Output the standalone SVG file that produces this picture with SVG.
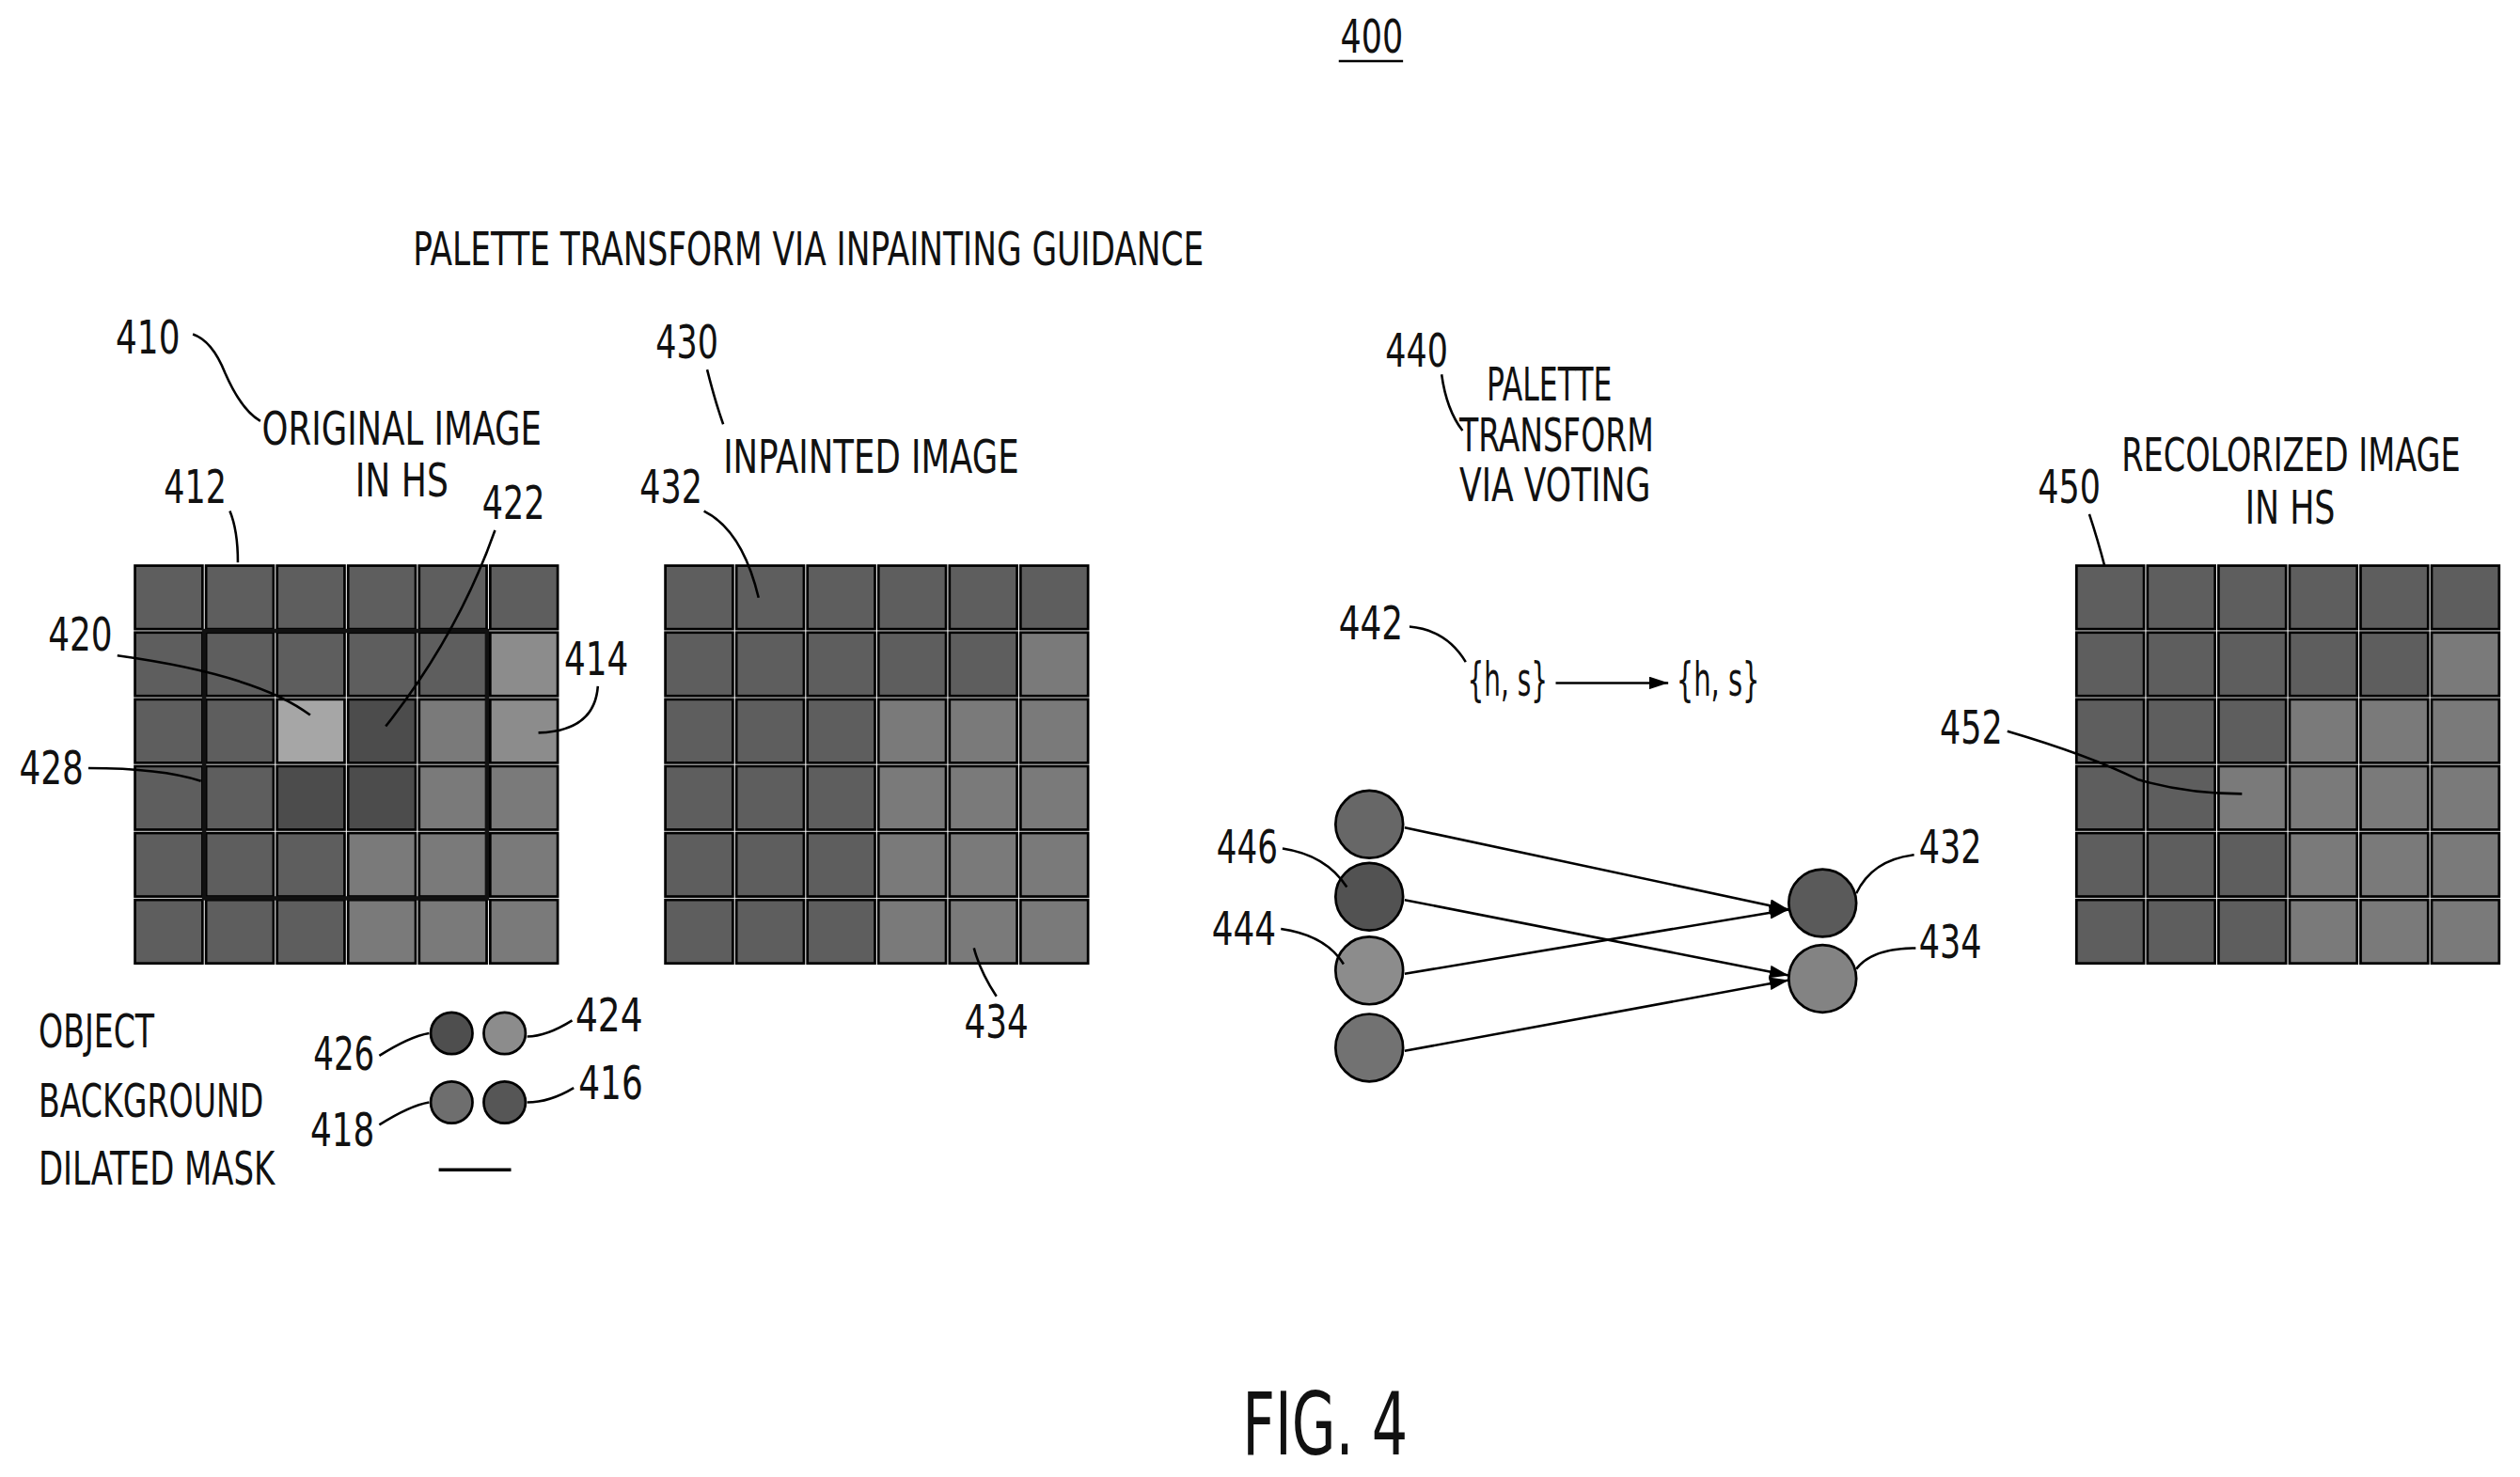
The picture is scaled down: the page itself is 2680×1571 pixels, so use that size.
<svg xmlns="http://www.w3.org/2000/svg" width="2680" height="1571" viewBox="0 0 2680 1571">
<style>
text{font-family:"DejaVu Sans Condensed","Liberation Sans Narrow","Liberation Sans",sans-serif;font-stretch:condensed;fill:#111;font-size:29px;lengthAdjust:spacingAndGlyphs}
.c{stroke:#000;stroke-width:1.6}
.D{fill:#5e5e5e}.K{fill:#4c4c4c}.M{fill:#7a7a7a}.L{fill:#8c8c8c}.W{fill:#a6a6a6}
.ld{fill:none;stroke:#000;stroke-width:1.5}
.ar{fill:none;stroke:#000;stroke-width:1.5;marker-end:url(#ah)}
</style>
<defs>
<marker id="ah" markerWidth="12" markerHeight="8" refX="12" refY="4" orient="auto" markerUnits="userSpaceOnUse"><path d="M0,0 L12,4 L0,8 Z" fill="#000"/></marker>
</defs>
<rect width="2680" height="1571" fill="#fff"/>
<g transform="scale(1.7092)">
<g id="title">
<text x="834" y="33" textLength="39" lengthAdjust="spacingAndGlyphs">400</text>
<line x1="833" y1="38" x2="873" y2="38" stroke="#000" stroke-width="1.5"/>
<text x="257" y="165" textLength="492" lengthAdjust="spacingAndGlyphs">PALETTE TRANSFORM VIA INPAINTING GUIDANCE</text>
<text x="773" y="905" textLength="103" lengthAdjust="spacingAndGlyphs" style="font-size:54px">FIG. 4</text>
</g>
<g id="grid410">
<text x="72" y="220" textLength="40" lengthAdjust="spacingAndGlyphs">410</text>
<text x="163" y="277" textLength="174" lengthAdjust="spacingAndGlyphs">ORIGINAL IMAGE</text>
<text x="221" y="309" textLength="58" lengthAdjust="spacingAndGlyphs">IN HS</text>
<g class="c">
<rect class="D" x="84" y="352" width="42" height="39.5"/><rect class="D" x="128.2" y="352" width="42" height="39.5"/><rect class="D" x="172.4" y="352" width="42" height="39.5"/><rect class="D" x="216.6" y="352" width="42" height="39.5"/><rect class="D" x="260.8" y="352" width="42" height="39.5"/><rect class="D" x="305" y="352" width="42" height="39.5"/>
<rect class="D" x="84" y="393.6" width="42" height="39.5"/><rect class="D" x="128.2" y="393.6" width="42" height="39.5"/><rect class="D" x="172.4" y="393.6" width="42" height="39.5"/><rect class="D" x="216.6" y="393.6" width="42" height="39.5"/><rect class="D" x="260.8" y="393.6" width="42" height="39.5"/><rect class="L" x="305" y="393.6" width="42" height="39.5"/>
<rect class="D" x="84" y="435.2" width="42" height="39.5"/><rect class="D" x="128.2" y="435.2" width="42" height="39.5"/><rect class="W" x="172.4" y="435.2" width="42" height="39.5"/><rect class="K" x="216.6" y="435.2" width="42" height="39.5"/><rect class="M" x="260.8" y="435.2" width="42" height="39.5"/><rect class="L" x="305" y="435.2" width="42" height="39.5"/>
<rect class="D" x="84" y="476.8" width="42" height="39.5"/><rect class="D" x="128.2" y="476.8" width="42" height="39.5"/><rect class="K" x="172.4" y="476.8" width="42" height="39.5"/><rect class="K" x="216.6" y="476.8" width="42" height="39.5"/><rect class="M" x="260.8" y="476.8" width="42" height="39.5"/><rect class="M" x="305" y="476.8" width="42" height="39.5"/>
<rect class="D" x="84" y="518.4" width="42" height="39.5"/><rect class="D" x="128.2" y="518.4" width="42" height="39.5"/><rect class="D" x="172.4" y="518.4" width="42" height="39.5"/><rect class="M" x="216.6" y="518.4" width="42" height="39.5"/><rect class="M" x="260.8" y="518.4" width="42" height="39.5"/><rect class="M" x="305" y="518.4" width="42" height="39.5"/>
<rect class="D" x="84" y="560" width="42" height="39.5"/><rect class="D" x="128.2" y="560" width="42" height="39.5"/><rect class="D" x="172.4" y="560" width="42" height="39.5"/><rect class="M" x="216.6" y="560" width="42" height="39.5"/><rect class="M" x="260.8" y="560" width="42" height="39.5"/><rect class="M" x="305" y="560" width="42" height="39.5"/>
</g>
<rect x="127" y="392.6" width="176" height="166.4" fill="none" stroke="#111" stroke-width="2.6"/>
<text x="102" y="313" textLength="39" lengthAdjust="spacingAndGlyphs">412</text><path class="ld" d="M143,318 Q148,330 148,350"/>
<text x="300" y="323" textLength="39" lengthAdjust="spacingAndGlyphs">422</text><path class="ld" d="M308,330 Q285,395 240,452"/>
<text x="30" y="405" textLength="40" lengthAdjust="spacingAndGlyphs">420</text><path class="ld" d="M73,408 Q160,420 193,445"/>
<text x="351" y="420" textLength="40" lengthAdjust="spacingAndGlyphs">414</text><path class="ld" d="M372,427 Q370,455 335,456"/>
<text x="12" y="488" textLength="40" lengthAdjust="spacingAndGlyphs">428</text><path class="ld" d="M55,478 Q100,478 125,486"/>
<path class="ld" d="M120,208 Q132,212 140,232 Q150,255 162,262"/>
</g>
<g id="grid430">
<text x="408" y="223" textLength="39" lengthAdjust="spacingAndGlyphs">430</text><path class="ld" d="M440,230 Q445,250 450,264"/>
<text x="450" y="294" textLength="184" lengthAdjust="spacingAndGlyphs">INPAINTED IMAGE</text>
<g class="c">
<rect class="D" x="414" y="352" width="42" height="39.5"/><rect class="D" x="458.2" y="352" width="42" height="39.5"/><rect class="D" x="502.4" y="352" width="42" height="39.5"/><rect class="D" x="546.6" y="352" width="42" height="39.5"/><rect class="D" x="590.8" y="352" width="42" height="39.5"/><rect class="D" x="635" y="352" width="42" height="39.5"/>
<rect class="D" x="414" y="393.6" width="42" height="39.5"/><rect class="D" x="458.2" y="393.6" width="42" height="39.5"/><rect class="D" x="502.4" y="393.6" width="42" height="39.5"/><rect class="D" x="546.6" y="393.6" width="42" height="39.5"/><rect class="D" x="590.8" y="393.6" width="42" height="39.5"/><rect class="M" x="635" y="393.6" width="42" height="39.5"/>
<rect class="D" x="414" y="435.2" width="42" height="39.5"/><rect class="D" x="458.2" y="435.2" width="42" height="39.5"/><rect class="D" x="502.4" y="435.2" width="42" height="39.5"/><rect class="M" x="546.6" y="435.2" width="42" height="39.5"/><rect class="M" x="590.8" y="435.2" width="42" height="39.5"/><rect class="M" x="635" y="435.2" width="42" height="39.5"/>
<rect class="D" x="414" y="476.8" width="42" height="39.5"/><rect class="D" x="458.2" y="476.8" width="42" height="39.5"/><rect class="D" x="502.4" y="476.8" width="42" height="39.5"/><rect class="M" x="546.6" y="476.8" width="42" height="39.5"/><rect class="M" x="590.8" y="476.8" width="42" height="39.5"/><rect class="M" x="635" y="476.8" width="42" height="39.5"/>
<rect class="D" x="414" y="518.4" width="42" height="39.5"/><rect class="D" x="458.2" y="518.4" width="42" height="39.5"/><rect class="D" x="502.4" y="518.4" width="42" height="39.5"/><rect class="M" x="546.6" y="518.4" width="42" height="39.5"/><rect class="M" x="590.8" y="518.4" width="42" height="39.5"/><rect class="M" x="635" y="518.4" width="42" height="39.5"/>
<rect class="D" x="414" y="560" width="42" height="39.5"/><rect class="D" x="458.2" y="560" width="42" height="39.5"/><rect class="D" x="502.4" y="560" width="42" height="39.5"/><rect class="M" x="546.6" y="560" width="42" height="39.5"/><rect class="M" x="590.8" y="560" width="42" height="39.5"/><rect class="M" x="635" y="560" width="42" height="39.5"/>
</g>
<text x="398" y="313" textLength="39" lengthAdjust="spacingAndGlyphs">432</text><path class="ld" d="M438,318 Q462,330 472,372"/>
<text x="600" y="646" textLength="40" lengthAdjust="spacingAndGlyphs">434</text><path class="ld" d="M620,620 Q610,605 606,590"/>
</g>
<g id="grid450">
<text x="1320" y="293" textLength="211" lengthAdjust="spacingAndGlyphs">RECOLORIZED IMAGE</text>
<text x="1397" y="326" textLength="56" lengthAdjust="spacingAndGlyphs">IN HS</text>
<text x="1268" y="313" textLength="39" lengthAdjust="spacingAndGlyphs">450</text><path class="ld" d="M1300,320 Q1305,335 1310,354"/>
<g class="c">
<rect class="D" x="1292" y="352" width="42" height="39.5"/><rect class="D" x="1336.2" y="352" width="42" height="39.5"/><rect class="D" x="1380.4" y="352" width="42" height="39.5"/><rect class="D" x="1424.6" y="352" width="42" height="39.5"/><rect class="D" x="1468.8" y="352" width="42" height="39.5"/><rect class="D" x="1513" y="352" width="42" height="39.5"/>
<rect class="D" x="1292" y="393.6" width="42" height="39.5"/><rect class="D" x="1336.2" y="393.6" width="42" height="39.5"/><rect class="D" x="1380.4" y="393.6" width="42" height="39.5"/><rect class="D" x="1424.6" y="393.6" width="42" height="39.5"/><rect class="D" x="1468.8" y="393.6" width="42" height="39.5"/><rect class="M" x="1513" y="393.6" width="42" height="39.5"/>
<rect class="D" x="1292" y="435.2" width="42" height="39.5"/><rect class="D" x="1336.2" y="435.2" width="42" height="39.5"/><rect class="D" x="1380.4" y="435.2" width="42" height="39.5"/><rect class="M" x="1424.6" y="435.2" width="42" height="39.5"/><rect class="M" x="1468.8" y="435.2" width="42" height="39.5"/><rect class="M" x="1513" y="435.2" width="42" height="39.5"/>
<rect class="D" x="1292" y="476.8" width="42" height="39.5"/><rect class="D" x="1336.2" y="476.8" width="42" height="39.5"/><rect class="M" x="1380.4" y="476.8" width="42" height="39.5"/><rect class="M" x="1424.6" y="476.8" width="42" height="39.5"/><rect class="M" x="1468.8" y="476.8" width="42" height="39.5"/><rect class="M" x="1513" y="476.8" width="42" height="39.5"/>
<rect class="D" x="1292" y="518.4" width="42" height="39.5"/><rect class="D" x="1336.2" y="518.4" width="42" height="39.5"/><rect class="D" x="1380.4" y="518.4" width="42" height="39.5"/><rect class="M" x="1424.6" y="518.4" width="42" height="39.5"/><rect class="M" x="1468.8" y="518.4" width="42" height="39.5"/><rect class="M" x="1513" y="518.4" width="42" height="39.5"/>
<rect class="D" x="1292" y="560" width="42" height="39.5"/><rect class="D" x="1336.2" y="560" width="42" height="39.5"/><rect class="D" x="1380.4" y="560" width="42" height="39.5"/><rect class="M" x="1424.6" y="560" width="42" height="39.5"/><rect class="M" x="1468.8" y="560" width="42" height="39.5"/><rect class="M" x="1513" y="560" width="42" height="39.5"/>
</g>
<text x="1207" y="463" textLength="39" lengthAdjust="spacingAndGlyphs">452</text><path class="ld" d="M1249,455 Q1300,470 1330,485 Q1360,494 1395,494"/>
</g>
<g id="voting">
<text x="862" y="228" textLength="39" lengthAdjust="spacingAndGlyphs">440</text><path class="ld" d="M897,233 Q900,255 910,268"/>
<text x="925" y="249" textLength="78" lengthAdjust="spacingAndGlyphs">PALETTE</text>
<text x="908" y="281" textLength="121" lengthAdjust="spacingAndGlyphs">TRANSFORM</text>
<text x="908" y="312" textLength="119" lengthAdjust="spacingAndGlyphs">VIA VOTING</text>
<text x="833" y="398" textLength="40" lengthAdjust="spacingAndGlyphs">442</text><path class="ld" d="M877,390 Q900,392 912,412"/>
<text x="913" y="433" textLength="50" lengthAdjust="spacingAndGlyphs">{h, s}</text>
<text x="1043" y="433" textLength="52" lengthAdjust="spacingAndGlyphs">{h, s}</text>
<g class="c">
<circle id="n1" cx="852" cy="513" r="21" fill="#676767"/>
<circle id="n446" cx="852" cy="558" r="21" fill="#525252"/>
<circle id="n444" cx="852" cy="604" r="21" fill="#8c8c8c"/>
<circle id="n4" cx="852" cy="652" r="21" fill="#727272"/>
<circle id="n432" cx="1134" cy="562" r="21" fill="#5a5a5a"/>
<circle id="n434" cx="1134" cy="609" r="21" fill="#838383"/>
</g>
<text x="757" y="537" textLength="38" lengthAdjust="spacingAndGlyphs">446</text><path class="ld" d="M798,528 Q825,532 838,552"/>
<text x="754" y="588" textLength="40" lengthAdjust="spacingAndGlyphs">444</text><path class="ld" d="M797,578 Q825,582 836,600"/>
<text x="1194" y="537" textLength="39" lengthAdjust="spacingAndGlyphs">432</text><path class="ld" d="M1191,532 Q1165,535 1155,556"/>
<text x="1194" y="596" textLength="39" lengthAdjust="spacingAndGlyphs">434</text><path class="ld" d="M1192,590 Q1165,590 1155,603"/>
</g>
<g id="legend">
<text x="24" y="652" textLength="72" lengthAdjust="spacingAndGlyphs">OBJECT</text>
<text x="24" y="695" textLength="140" lengthAdjust="spacingAndGlyphs">BACKGROUND</text>
<text x="24" y="737" textLength="147" lengthAdjust="spacingAndGlyphs">DILATED MASK</text>
<g class="c">
<circle cx="281" cy="643" r="13" fill="#4e4e4e"/>
<circle cx="314" cy="643" r="13" fill="#8c8c8c"/>
<circle cx="281" cy="686" r="13" fill="#6e6e6e"/>
<circle cx="314" cy="686" r="13" fill="#565656"/>
</g>
<line x1="273" y1="728" x2="318" y2="728" stroke="#000" stroke-width="2"/>
<text x="195" y="666" textLength="38" lengthAdjust="spacingAndGlyphs">426</text><path class="ld" d="M236,657 Q255,645 267,643"/>
<text x="358" y="642" textLength="42" lengthAdjust="spacingAndGlyphs">424</text><path class="ld" d="M356,635 Q340,645 328,645"/>
<text x="193" y="713" textLength="40" lengthAdjust="spacingAndGlyphs">418</text><path class="ld" d="M236,700 Q255,688 267,686"/>
<text x="360" y="684" textLength="40" lengthAdjust="spacingAndGlyphs">416</text><path class="ld" d="M357,677 Q342,686 328,686"/>
</g>
<g id="connectors">
<path class="ar" d="M968,425 L1038,425"/>
<path class="ar" d="M874,515 L1113,566"/>
<path class="ar" d="M874,560 L1113,607"/>
<path class="ar" d="M874,606 L1113,566"/>
<path class="ar" d="M874,654 L1113,610"/>
</g>
</g>
</svg>
